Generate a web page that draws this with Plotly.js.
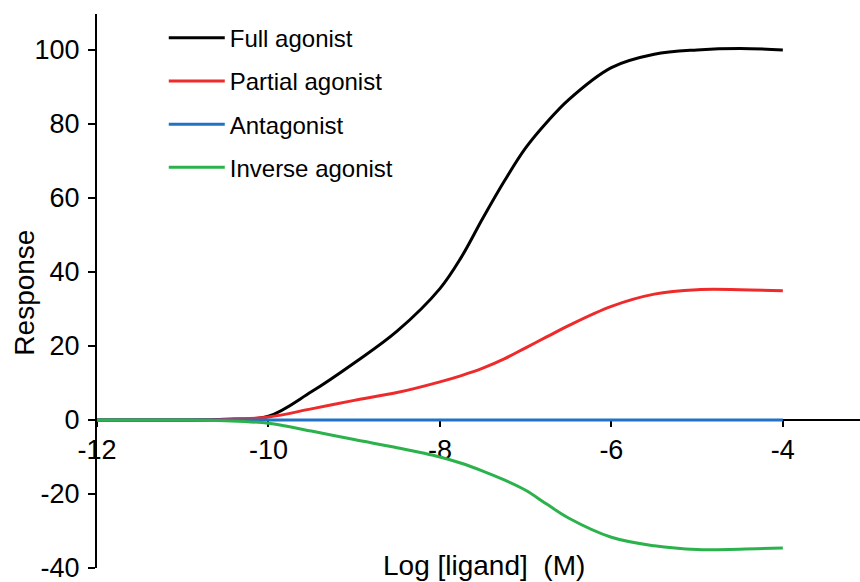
<!DOCTYPE html>
<html>
<head>
<meta charset="utf-8">
<script src="https://cdn.plot.ly/plotly-3.0.1.min.js"></script>
<style>html,body{margin:0;padding:0;background:#fff;}#chart{width:860px;height:582px;}</style>
</head>
<body>
<div id="chart"></div>
<script>
// Data (log concentration in M vs response)
const logLigand = [-12, -11.5, -11, -10.5, -10, -9.5, -9, -8.5, -8, -7.75, -7.5, -7.25, -7, -6.75, -6.5, -6, -5.5, -5, -4.5, -4];
const fullAgonist    = [0, 0, 0, 0.2, 1, 7.6, 15.4, 24, 35.5, 44, 54.5, 64.5, 73.5, 80.5, 86.5, 95.2, 98.8, 100, 100.4, 100];
const partialAgonist = [0, 0, 0, 0.1, 0.8, 3, 5.3, 7.4, 10.3, 12, 14, 16.5, 19.5, 22.5, 25.5, 30.7, 34, 35.2, 35.2, 34.9];
const antagonist     = [0, 0, 0, 0, 0, 0, 0, 0, 0, 0, 0, 0, 0, 0, 0, 0, 0, 0, 0, 0];
const inverseAgonist = [0, 0, 0, -0.2, -0.9, -3, -5.3, -7.5, -10, -11.7, -13.8, -16.2, -19, -22.8, -26.5, -31.7, -34, -35, -34.9, -34.6];
const seriesNames = ["Full agonist", "Partial agonist", "Antagonist", "Inverse agonist"];
const xTickVals = [-12, -10, -8, -6, -4];
const xTickText = ["-12", "-10", "-8", "-6", "-4"];
const yTickVals = [-40, -20, 0, 20, 40, 60, 80, 100];
const yTickText = ["-40", "-20", "0", "20", "40", "60", "80", "100"];
const xTitle = "Log [ligand]  (M)";
const yTitle = "Response";

const colors = ["#000000", "#ee2a2a", "#1f72c6", "#2bb24c"];
const values = [fullAgonist, partialAgonist, antagonist, inverseAgonist];

const FONT = "Liberation Sans, Arial, Helvetica, sans-serif";

const traces = values.map((v, i) => ({
  x: logLigand,
  y: v,
  type: "scatter",
  mode: "lines",
  name: seriesNames[i],
  legendgroup: "g" + i,
  line: {color: colors[i], width: 3, shape: "spline", smoothing: 1}
}));

const yMin = -40, yMax = 109.7;
const layout = {
  width: 860, height: 582,
  margin: {l: 97, r: 0, t: 14, b: 14, pad: 0},
  paper_bgcolor: "#ffffff",
  plot_bgcolor: "#ffffff",
  showlegend: true,
  legend: {
    x: 0.0875, y: 0.997, xanchor: "left", yanchor: "top",
    bgcolor: "rgba(0,0,0,0)",
    font: {family: FONT, size: 24, color: "#000"},
    tracegroupgap: 9,
    itemwidth: 56
  },
  xaxis: {
    range: [-12, -3.1],
    anchor: "free",
    position: (0 - yMin) / (yMax - yMin),
    showgrid: false, zeroline: false,
    showline: true, linecolor: "#000", linewidth: 2,
    ticks: "outside", ticklen: 6, tickwidth: 2, tickcolor: "#000",
    tickvals: xTickVals, ticktext: xTickText,
    tickfont: {family: FONT, size: 27, color: "#000"},
    ticklabeloverflow: "allow",
    layer: "below traces"
  },
  yaxis: {
    range: [yMin, yMax],
    showgrid: false, zeroline: false,
    showline: true, linecolor: "#000", linewidth: 2,
    ticks: "outside", ticklen: 7, tickwidth: 2, tickcolor: "#000",
    ticklabelstandoff: 3,
    tickvals: yTickVals, ticktext: yTickText,
    tickfont: {family: FONT, size: 27, color: "#000"},
    ticklabeloverflow: "allow",
    layer: "below traces"
  },
  annotations: [
    {text: xTitle, xref: "paper", yref: "paper", x: 0.507, y: 0, yshift: 3,
     xanchor: "center", yanchor: "middle", showarrow: false,
     font: {family: FONT, size: 28, color: "#000"}},
    {text: yTitle, xref: "paper", yref: "paper", x: 0, xshift: -72, y: 0.497,
     xanchor: "center", yanchor: "middle", textangle: -90, showarrow: false,
     font: {family: FONT, size: 28, color: "#000"}}
  ]
};

Plotly.newPlot("chart", traces, layout, {displayModeBar: false, staticPlot: true});
</script>
</body>
</html>
